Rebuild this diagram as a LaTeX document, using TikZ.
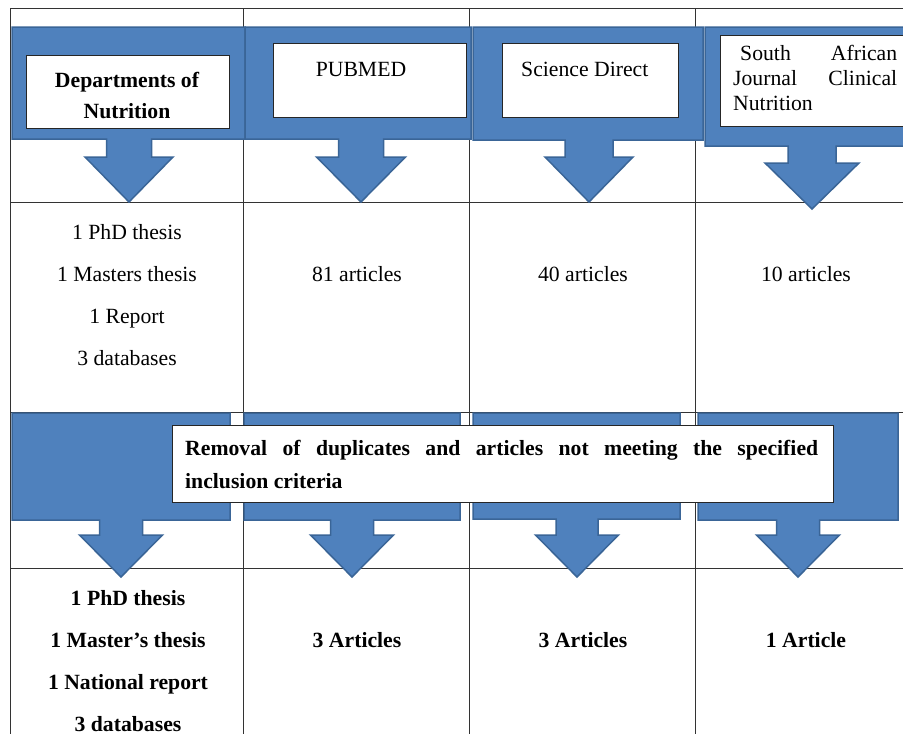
\documentclass[tikz,border=0pt]{standalone}
\usepackage{fontspec}
\setmainfont{Liberation Serif}
\definecolor{cblue}{HTML}{4F81BD}
\definecolor{cedge}{HTML}{3A6597}
\newcommand\dcallout[9]{\draw[callout] (#1,#3) -- (#2,#3) -- (#2,#4) -- ({#5+#6},#4) -- ({#5+#6},#8) -- ({#5+#7},#8) -- (#5,#9) -- ({#5-#7},#8) -- ({#5-#6},#8) -- ({#5-#6},#4) -- (#1,#4) -- cycle;}
\begin{document}
\begin{tikzpicture}[x=1pt,y=-1pt,
  callout/.style={fill=cblue,draw=cedge,line width=1.5pt,line join=miter},
  wbox/.style={draw=black!85,fill=white,line width=0.8pt,anchor=north west,inner sep=0pt},
  gridline/.style={draw=black!80,line width=1pt},
  txt/.style={font=\fontsize{21.7}{26}\selectfont,inner sep=0pt,anchor=base},
  btxt/.style={txt,font=\fontsize{21.7}{26}\selectfont\bfseries}]
\useasboundingbox (0,0) rectangle (903,734);
\fill[white] (0,0) rectangle (903,734);
\begin{scope}
\clip (0,0) rectangle (903,734);
% table
\foreach \yy in {8,202,412,568} {\draw[gridline] (10,\yy) -- (910,\yy);}
\foreach \xx in {10,243,469,695} {\draw[gridline] (\xx,8) -- (\xx,740);}
% top callouts
\dcallout{12}{245}{27}{139}{129}{22.5}{44}{157}{202}
\dcallout{245}{471}{27}{139}{361}{22.5}{44.5}{157}{202}
\dcallout{473}{703}{27}{140}{589}{24}{44}{157}{202}
\dcallout{705}{915}{27}{146}{812}{24}{47}{163}{209}
% white boxes top
\node[wbox,minimum width=203pt,minimum height=73pt] (wdep) at (26,55) {};
\node[wbox,minimum width=193pt,minimum height=74pt] (wpub) at (273,43) {};
\node[wbox,minimum width=176pt,minimum height=74pt] (wsci) at (502,43) {};
\node[wbox,minimum width=200pt,minimum height=91pt] (wsa) at (720,35) {};
% top texts
\node[btxt] (tdep1) at (127,87) {Departments of};
\node[btxt] (tdep2) at (127,118) {Nutrition};
\node[txt] (tpub) at (361,76) {PUBMED};
\node[txt,anchor=base west] (tsci) at (521,76) {Science Direct};
\node[txt,anchor=base west] (tsa1) at (740,60) {\makebox[157pt][s]{South African}};
\node[txt,anchor=base west] (tsa2) at (733,85) {\makebox[164pt][s]{Journal Clinical}};
\node[txt,anchor=base west] (tsa3) at (733,110) {Nutrition};
% row 2 texts
\node[txt] (r2a) at (127,239) {1 PhD thesis};
\node[txt] (r2b) at (127,281) {1 Masters thesis};
\node[txt] (r2c) at (127,323) {1 Report};
\node[txt] (r2d) at (127,365) {3 databases};
\node[txt] (r2e) at (357,281) {81 articles};
\node[txt] (r2f) at (583,281) {40 articles};
\node[txt] (r2g) at (806,281) {10 articles};
% row 3 callouts
\dcallout{12}{230}{413}{520}{121}{21.5}{41.5}{535}{577}
\dcallout{244}{460}{413}{520}{352}{21.5}{41.5}{535}{577}
\dcallout{473}{680}{413}{519}{577}{21}{41.5}{535}{577}
\dcallout{698}{898}{413}{520}{798}{21.5}{41.5}{535}{577}
\node[wbox,minimum width=661pt,minimum height=77pt] (wrem) at (172,425) {};
\node[btxt,anchor=base west] (trem1) at (185,455) {\makebox[633pt][s]{Removal of duplicates and articles not meeting the specified}};
\node[btxt,anchor=base west] (trem2) at (185,488) {inclusion criteria};
% row 4 texts
\node[btxt] (r4a) at (128,605) {1 PhD thesis};
\node[btxt] (r4b) at (128,647) {1 Master’s thesis};
\node[btxt] (r4c) at (128,689) {1 National report};
\node[btxt] (r4d) at (128,731) {3 databases};
\node[btxt] (r4e) at (357,647) {3 Articles};
\node[btxt] (r4f) at (583,647) {3 Articles};
\node[btxt] (r4g) at (806,647) {1 Article};
\end{scope}
\end{tikzpicture}
\end{document}
